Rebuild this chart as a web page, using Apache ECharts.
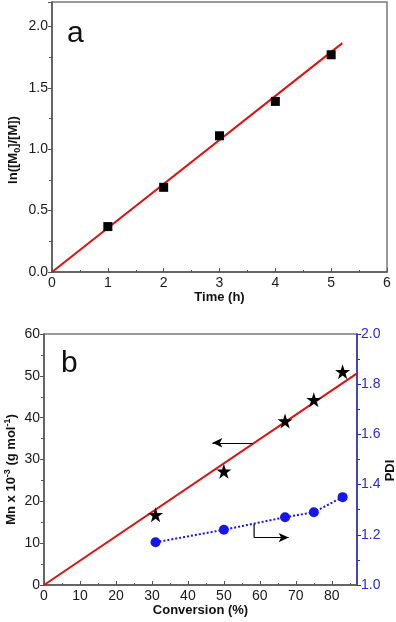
<!DOCTYPE html>
<html>
<head>
<meta charset="utf-8">
<script src="https://cdn.jsdelivr.net/npm/echarts@6/dist/echarts.min.js"></script>
<style>
  html, body { margin: 0; padding: 0; background: #fff; }
  #chart { width: 396px; height: 622px; }
</style>
</head>
<body>
<div id="chart"></div>
<script>
// panel a: kinetics
var timeH = [1, 2, 3, 4, 5]
var lnRatio = [0.37, 0.69, 1.11, 1.39, 1.77]
var fitA = [[0, 0], [5.2, 1.865]]

// panel b: Mn and PDI vs conversion
var conversion = [31, 50, 67, 75, 83]
var mnValues = [16.8, 27.2, 39.2, 44.3, 51.0]
var pdiValues = [1.17, 1.22, 1.27, 1.29, 1.35]
var fitB = [[0, 0], [87, 50.6]]

// annotation arrows (data coordinates)
var arrowMn = [[58, 34], [46.8, 34]]
var arrowPdiStem = [[58.4, 1.243], [58.4, 1.189]]
var arrowPdi = [[58.4, 1.189], [68, 1.189]]

var font = 'Liberation Sans, Arial, sans-serif'
var axisGray = '#555'
var blue = '#2a2ad0'

var chart = echarts.init(document.getElementById('chart'))

function valueAxis(opt) {
  var base = {
    type: 'value',
    nameLocation: 'middle',
    nameMoveOverlap: false,
    nameTextStyle: { fontFamily: font, fontSize: 13, fontWeight: 'bold', color: '#111' },
    axisLine: { show: true, lineStyle: { color: axisGray, width: 1.5 } },
    axisTick: { show: true, inside: true, length: 4, lineStyle: { color: axisGray, width: 1 } },
    minorTick: { show: true, splitNumber: 2, length: 2, lineStyle: { color: axisGray } },
    axisLabel: { fontFamily: font, fontSize: 14, color: '#1a1a1a', margin: 4, showMaxLabel: true },
    splitLine: { show: false }
  }
  return Object.assign(base, opt)
}

chart.setOption({
  animation: false,
  grid: [
    { left: 52, top: 2, right: 9, height: 270, show: true, borderColor: '#777', borderWidth: 1.5, outerBoundsMode: 'none' },
    { left: 44, top: 334, right: 39, height: 251, show: true, borderColor: '#777', borderWidth: 1.5, outerBoundsMode: 'none' }
  ],
  graphic: [
    { type: 'text', left: 67, top: 19, style: { text: 'a', font: '30px ' + font, fill: '#111' } },
    { type: 'text', left: 61, top: 349, style: { text: 'b', font: '30px ' + font, fill: '#111' } }
  ],
  xAxis: [
    valueAxis({
      gridIndex: 0, min: 0, max: 6, interval: 1,
      name: 'Time (h)', nameGap: 19
    }),
    valueAxis({
      gridIndex: 1, min: 0, max: 87, interval: 10,
      name: 'Conversion (%)', nameGap: 19,
      axisLabel: { fontFamily: font, fontSize: 14, color: '#1a1a1a', margin: 4, showMaxLabel: false }
    })
  ],
  yAxis: [
    valueAxis({
      gridIndex: 0, min: 0, max: 2.2, interval: 0.5,
      name: '{t|ln([M}{s|0}{t|]/[M])}', nameGap: 30,
      nameTextStyle: {
        fontFamily: font, fontSize: 13, fontWeight: 'bold', color: '#111',
        padding: [0, 26, 0, 0],
        rich: {
          t: { fontFamily: font, fontSize: 13, fontWeight: 'bold', color: '#111' },
          s: { fontFamily: font, fontSize: 9, fontWeight: 'bold', color: '#111', verticalAlign: 'top', padding: [8, 0, 0, 0] }
        }
      },
      axisTick: { show: true, inside: false, length: 4, lineStyle: { color: axisGray } },
      minorTick: { show: true, splitNumber: 2, length: 3, lineStyle: { color: axisGray } },
      axisLabel: {
        fontFamily: font, fontSize: 14, color: '#1a1a1a', margin: 4, showMaxLabel: false,
        formatter: function (v) { return v.toFixed(1) }
      }
    }),
    valueAxis({
      gridIndex: 1, min: 0, max: 60, interval: 10,
      name: '{t|Mn x 10}{s|-3}{t| (g mol}{s|-1}{t|)}', nameGap: 25,
      nameTextStyle: {
        fontFamily: font, fontSize: 13, fontWeight: 'bold', color: '#111',
        padding: [0, 20, 0, 0],
        rich: {
          t: { fontFamily: font, fontSize: 13, fontWeight: 'bold', color: '#111' },
          s: { fontFamily: font, fontSize: 9, fontWeight: 'bold', color: '#111', verticalAlign: 'bottom', padding: [0, 0, 7, 0] }
        }
      },
      axisTick: { show: true, inside: false, length: 4, lineStyle: { color: axisGray } },
      minorTick: { show: true, splitNumber: 2, length: 3, lineStyle: { color: axisGray } },
      axisLabel: { fontFamily: font, fontSize: 14, color: '#1a1a1a', margin: 4 }
    }),
    valueAxis({
      gridIndex: 1, position: 'right', min: 1.0, max: 2.0, interval: 0.2,
      name: 'PDI', nameGap: 27,
      nameTextStyle: { fontFamily: font, fontSize: 13, fontWeight: 'bold', color: '#111', padding: [0, 22, 0, 0] },
      axisLine: { show: true, lineStyle: { color: blue, width: 1.5 } },
      axisTick: { show: true, inside: false, length: 4, lineStyle: { color: blue } },
      minorTick: { show: true, splitNumber: 2, length: 3, lineStyle: { color: blue } },
      axisLabel: {
        fontFamily: font, fontSize: 14, color: blue, margin: 4,
        formatter: function (v) { return v.toFixed(1) }
      }
    })
  ],
  series: [
    {
      type: 'line', xAxisIndex: 0, yAxisIndex: 0, data: fitA,
      symbol: 'none', lineStyle: { color: '#e01010', width: 2 }, z: 2
    },
    {
      type: 'scatter', xAxisIndex: 0, yAxisIndex: 0,
      data: timeH.map(function (t, i) { return [t, lnRatio[i]] }),
      symbol: 'rect', symbolSize: 9, itemStyle: { color: '#000', opacity: 1 }, z: 3
    },
    {
      type: 'line', xAxisIndex: 1, yAxisIndex: 1, data: fitB,
      symbol: 'none', lineStyle: { color: '#e01010', width: 2 }, z: 2
    },
    {
      type: 'scatter', xAxisIndex: 1, yAxisIndex: 1,
      data: conversion.map(function (c, i) { return [c, mnValues[i]] }),
      symbol: 'path://M50,0 L61.8,35.4 L99,35.4 L69.1,57.3 L80.4,92.7 L50,70.8 L19.6,92.7 L30.9,57.3 L1,35.4 L38.2,35.4 Z',
      symbolSize: 15, itemStyle: { color: '#000', opacity: 1 }, z: 3
    },
    {
      type: 'line', xAxisIndex: 1, yAxisIndex: 2,
      data: conversion.map(function (c, i) { return [c, pdiValues[i]] }),
      symbol: 'circle', symbolSize: 10, showAllSymbol: true,
      itemStyle: { color: '#1515f0' },
      lineStyle: { color: '#1515f0', width: 2, type: [2, 2] }, z: 3
    },
    {
      type: 'line', xAxisIndex: 1, yAxisIndex: 1, data: [],
      symbol: 'none',
      markLine: {
        silent: true, symbol: ['none', 'arrow'], symbolSize: [7, 10],
        label: { show: false },
        lineStyle: { color: '#000', width: 1.2, type: 'solid' },
        data: [[{ coord: arrowMn[0] }, { coord: arrowMn[1] }]]
      }
    },
    {
      type: 'line', xAxisIndex: 1, yAxisIndex: 2, data: arrowPdiStem,
      symbol: 'none', lineStyle: { color: '#000', width: 1.2 },
      markLine: {
        silent: true, symbol: ['none', 'arrow'], symbolSize: [7, 10],
        label: { show: false },
        lineStyle: { color: '#000', width: 1.2, type: 'solid' },
        data: [[{ coord: arrowPdi[0] }, { coord: arrowPdi[1] }]]
      }
    }
  ]
})
</script>
</body>
</html>
